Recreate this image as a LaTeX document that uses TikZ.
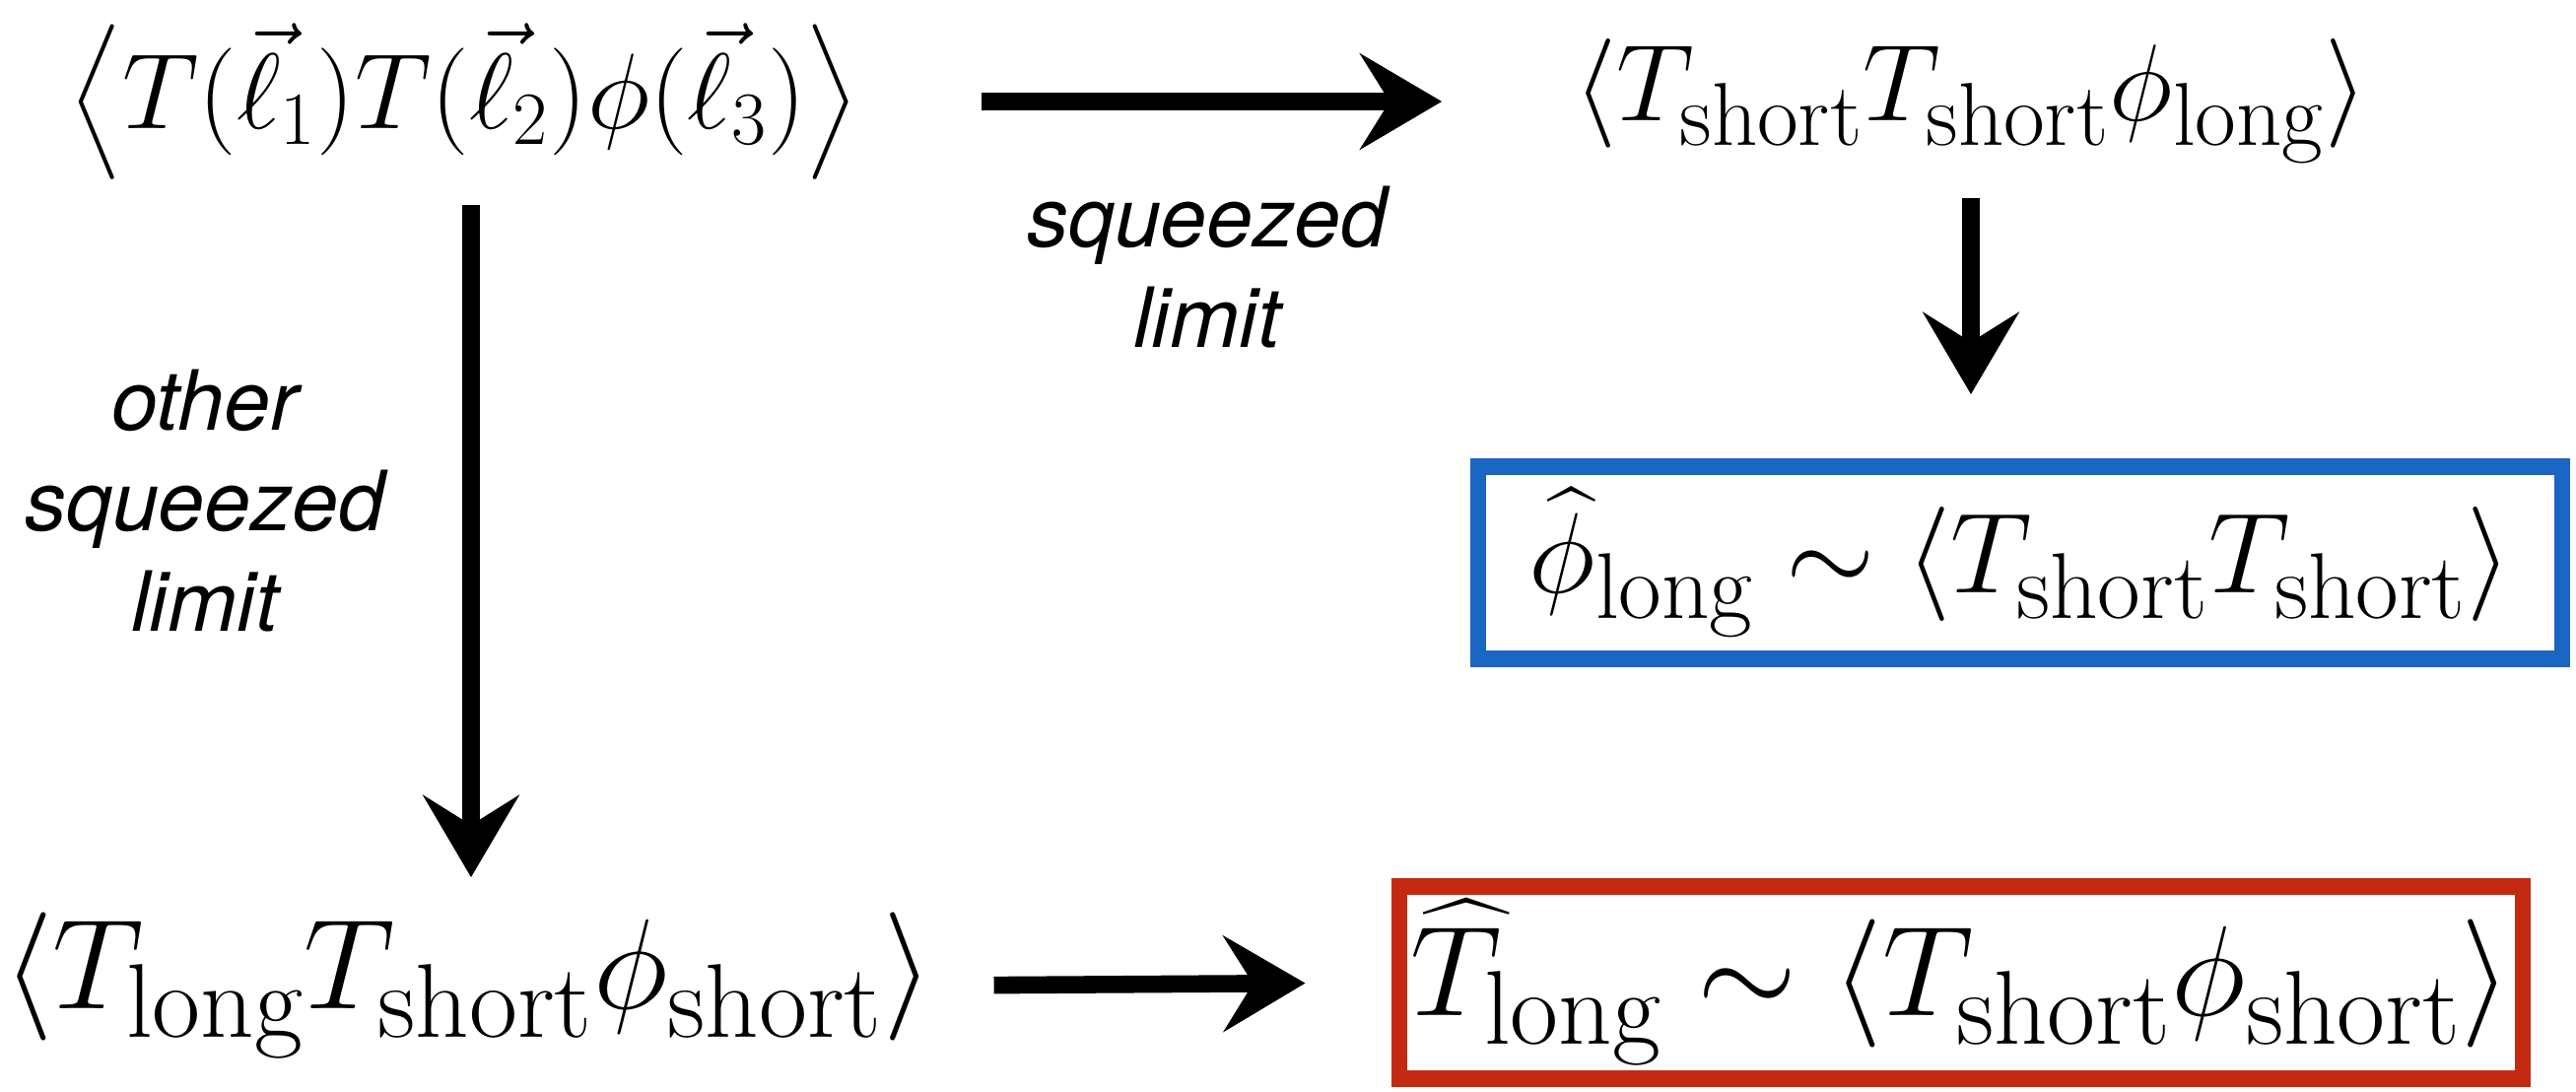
\RequirePackage{fix-cm}
\documentclass[tikz,border=0pt]{standalone}
\usepackage{amsmath}
\usepackage{fontspec}
\usepackage{xcolor}
\usepackage{tikz}
\usetikzlibrary{arrows.meta,calc,positioning}
\newfontfamily\sqzsans{TeX Gyre Heros}
\definecolor{sqzBlue}{HTML}{1A66C2}
\definecolor{sqzRed}{HTML}{C42A12}
\DeclareMathSizes{31}{31}{21.7}{15.5}
\DeclareMathSizes{31.5}{31.5}{25.8}{20}
\DeclareMathSizes{33}{33}{27}{21}
\DeclareMathSizes{37}{37}{30.3}{24}
\tikzset{
  sqzmath/.style={inner sep=0pt},
  sqzlabel/.style={align=center,font=\sqzsans\itshape\fontsize{24}{29}\selectfont},
  sqzarrow/.style={-{Stealth[length=8.3mm,width=9.7mm,inset=3mm]},line width=5pt,black},
  sqzbox/.style={sqzmath,draw,line width=4.8pt}
}

\begin{document}
\begin{tikzpicture}[x=1cm,y=1cm]
    \useasboundingbox (0,0) rectangle (26.14,-11.07);
    \node[sqzmath,font=\fontsize{31}{37}\selectfont] (full) at (4.71,-1.03)
      {$\left\langle T(\vec{\ell}_1)T(\vec{\ell}_2)\phi(\vec{\ell}_3)\right\rangle$};
    \node[sqzmath,font=\fontsize{31.5}{38}\selectfont] (sq) at (20.0,-1.03)
      {$\langle T_{\mathrm{short}}T_{\mathrm{short}}\phi_{\mathrm{long}}\rangle$};
    \node[sqzmath,font=\fontsize{37}{44}\selectfont] (osq) at (4.75,-10.0)
      {$\langle T_{\mathrm{long}}T_{\mathrm{short}}\phi_{\mathrm{short}}\rangle$};
    \node[sqzbox,draw=sqzBlue,font=\fontsize{33}{40}\selectfont,
          minimum width=11.0cm,minimum height=1.95cm]
      (phihat) at (20.5,-5.71)
      {$\widehat{\phi}_{\mathrm{long}}\sim\langle T_{\mathrm{short}}T_{\mathrm{short}}\rangle$};
    \node[sqzbox,draw=sqzRed,font=\fontsize{37}{44}\selectfont,
          minimum width=11.4cm,minimum height=1.95cm]
      (that) at (19.9,-9.97)
      {$\widehat{T}_{\mathrm{long}}\sim\langle T_{\mathrm{short}}\phi_{\mathrm{short}}\rangle$};

    \draw[sqzarrow,shorten <=1.24cm,shorten >=1.34cm] (full.east) -- (sq.west);
    \draw[sqzarrow,shorten <=0.34cm,shorten >=0.65cm] (sq.south) -- (phihat.north -| sq.south);
    \draw[sqzarrow,shorten <=0.25cm,shorten >=0.35cm]
      ($(full.south)+(0.07,0)$) coordinate (lt) -- (lt |- osq.north);
    \draw[sqzarrow,shorten <=0.61cm,shorten >=0.87cm] (osq.east) -- (that.west);

    \node[sqzlabel] (lsq) at (12.25,-2.71) {squeezed\\limit};
    \node[sqzlabel] (losq) at (2.08,-5.08) {other\\squeezed\\limit};
  \end{tikzpicture}
\end{document}
